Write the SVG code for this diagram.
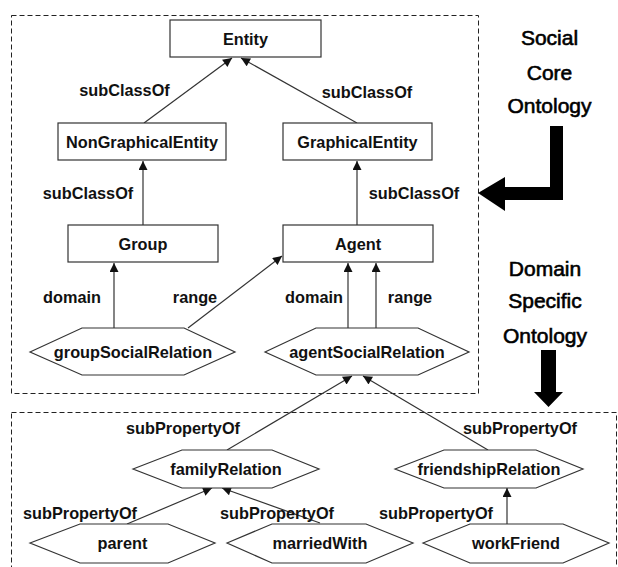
<svg xmlns="http://www.w3.org/2000/svg" width="618" height="567" viewBox="0 0 618 567">
<defs>
<marker id="ah" viewBox="0 0 10 10" refX="10" refY="5" markerWidth="10" markerHeight="9" markerUnits="userSpaceOnUse" orient="auto">
<path d="M0,0 L10,5 L0,10 Z" fill="#111"/>
</marker>
<style>
.frame{fill:none;stroke:#222;stroke-width:1;stroke-dasharray:5,3}
.box{fill:#fff;stroke:#333;stroke-width:1.2}
.lbl{font-family:"Liberation Sans",Arial,sans-serif;font-weight:bold;font-size:16.3px;fill:#111;text-anchor:middle;dominant-baseline:central}
.side{font-family:"Liberation Sans",Arial,sans-serif;font-size:21px;fill:#000;stroke:#000;stroke-width:0.6;text-anchor:middle;dominant-baseline:central}
.edge{fill:none;stroke:#333;stroke-width:1.2;marker-end:url(#ah)}
</style>
</defs>
<rect width="618" height="567" fill="#fff"/>
<g id="frames">
<rect class="frame" x="11.5" y="15.5" width="467" height="378"/>
<rect class="frame" x="11.5" y="412.5" width="605" height="170"/>
</g>
<g id="side-labels">
<text class="side" x="549.5" y="37">Social</text>
<text class="side" x="549.5" y="72">Core</text>
<text class="side" x="549.5" y="105">Ontology</text>
<text class="side" x="545" y="268">Domain</text>
<text class="side" x="545" y="300">Specific</text>
<text class="side" x="545" y="335">Ontology</text>
<path d="M550,126 H563 V200 H505 V211 L478,193 L505,177 V187 H550 Z" fill="#000"/>
<path d="M541,350 H556 V392 H563 L548.5,407 L534,392 H541 Z" fill="#000"/>
</g>
<g id="connectors">
<line class="edge" x1="144" y1="123" x2="232" y2="58"/>
<line class="edge" x1="357" y1="123" x2="241" y2="58"/>
<line class="edge" x1="143" y1="225" x2="143" y2="161"/>
<line class="edge" x1="357" y1="225" x2="357" y2="161"/>
<line class="edge" x1="114" y1="328" x2="114" y2="263"/>
<line class="edge" x1="188" y1="328" x2="282" y2="256"/>
<line class="edge" x1="348" y1="328" x2="348" y2="263"/>
<line class="edge" x1="376" y1="328" x2="376" y2="263"/>
<line class="edge" x1="227" y1="450" x2="352" y2="376"/>
<line class="edge" x1="488" y1="450" x2="363" y2="376"/>
<line class="edge" x1="127" y1="524" x2="212" y2="488"/>
<line class="edge" x1="320" y1="523" x2="222" y2="488"/>
<line class="edge" x1="507" y1="524" x2="507" y2="488"/>
</g>
<g id="edge-labels">
<text class="lbl" x="124.5" y="90">subClassOf</text>
<text class="lbl" x="367" y="92">subClassOf</text>
<text class="lbl" x="88" y="193">subClassOf</text>
<text class="lbl" x="414" y="193">subClassOf</text>
<text class="lbl" x="72" y="297">domain</text>
<text class="lbl" x="195" y="297">range</text>
<text class="lbl" x="314" y="297">domain</text>
<text class="lbl" x="410" y="297">range</text>
<text class="lbl" x="183" y="428">subPropertyOf</text>
<text class="lbl" x="520" y="428">subPropertyOf</text>
<text class="lbl" x="80" y="513">subPropertyOf</text>
<text class="lbl" x="277" y="513">subPropertyOf</text>
<text class="lbl" x="436" y="513">subPropertyOf</text>
</g>
<g id="Entity"><rect class="box" x="170" y="20" width="151" height="37"/><text class="lbl" x="245.5" y="38.5">Entity</text></g>
<g id="NonGraphicalEntity"><rect class="box" x="58" y="123" width="168" height="37"/><text class="lbl" x="142" y="141.5">NonGraphicalEntity</text></g>
<g id="GraphicalEntity"><rect class="box" x="283" y="123" width="149" height="37"/><text class="lbl" x="357.5" y="141.5">GraphicalEntity</text></g>
<g id="Group"><rect class="box" x="68" y="225" width="150" height="37"/><text class="lbl" x="143" y="243.5">Group</text></g>
<g id="Agent"><rect class="box" x="283" y="225" width="150" height="37"/><text class="lbl" x="358" y="243.5">Agent</text></g>
<g id="groupSocialRelation"><polygon class="box" points="30,352 82,328 184,328 235,352 184,375 82,375"/><text class="lbl" x="133" y="352">groupSocialRelation</text></g>
<g id="agentSocialRelation"><polygon class="box" points="265,352 316,328 418,328 469,352 418,375 316,375"/><text class="lbl" x="367" y="352">agentSocialRelation</text></g>
<g id="familyRelation"><polygon class="box" points="133,469 182,450 272,450 319,469 272,488 182,488"/><text class="lbl" x="226" y="469">familyRelation</text></g>
<g id="friendshipRelation"><polygon class="box" points="395,469 444,450 536,450 583,469 536,488 444,488"/><text class="lbl" x="489" y="469">friendshipRelation</text></g>
<g id="parent"><polygon class="box" points="30,543 80,524 168,524 215,543 168,563 80,563"/><text class="lbl" x="122.5" y="543">parent</text></g>
<g id="marriedWith"><polygon class="box" points="227,543 272,524 366,524 413,543 366,563 272,563"/><text class="lbl" x="320" y="543">marriedWith</text></g>
<g id="workFriend"><polygon class="box" points="423,543 470,524 563,524 609,543 563,563 470,563"/><text class="lbl" x="516" y="543">workFriend</text></g>
</svg>
